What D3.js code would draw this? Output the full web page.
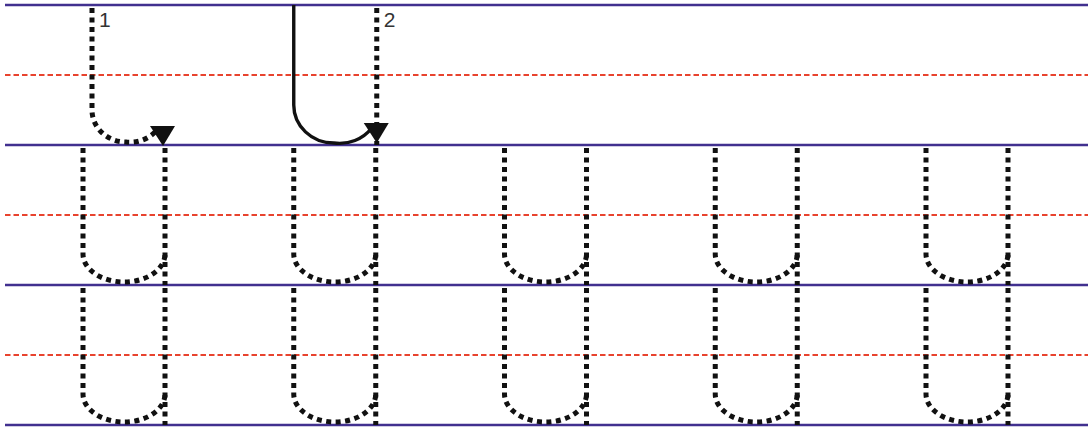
<!DOCTYPE html>
<html><head><meta charset="utf-8">
<script src="https://cdn.jsdelivr.net/npm/d3@7"></script>
<style>html,body{margin:0;padding:0;background:#fff;}svg{display:block;}</style>
</head><body>
<script>
// ---- data ----
const guideRows = [0, 1, 2, 3];          // solid guide lines (row boundaries)
const midRows = [0.5, 1.5, 2.5];         // dashed mid lines
const practiceRows = [1, 2];             // rows with dotted letters
const columns = [0, 1, 2, 3, 4];         // letter columns
const strokeLabels = ["1", "2"];         // stroke order labels

const W = 1088, H = 430;
const svg = d3.select("body").append("svg").attr("width", W).attr("height", H);

const y = d3.scaleLinear().domain([0, 3]).range([5, 425]);
const x = d3.scaleLinear().domain([0, 4]).range([83, 926]);
const letterW = 82;

// guide lines
svg.selectAll("line.mid").data(midRows).join("line")
  .attr("x1", 5).attr("x2", W).attr("y1", d => y(d)).attr("y2", d => y(d))
  .attr("stroke", "#e8432e").attr("stroke-width", 2.2).attr("stroke-dasharray", "5.5 3");
svg.selectAll("line.guide").data(guideRows).join("line")
  .attr("x1", 5).attr("x2", W).attr("y1", d => y(d)).attr("y2", d => y(d))
  .attr("stroke", "#41308f").attr("stroke-width", 2.5);

const dot = g => g.attr("fill", "none").attr("stroke", "#111").attr("stroke-width", 5)
  .attr("stroke-dasharray", "5 4.5").attr("stroke-linecap", "butt");

// practice letters
function uPath(L, T) {
  const B = T + (y(1) - y(0));
  const p = d3.path();
  p.moveTo(L, T + 3);
  p.lineTo(L, B - 31);
  return `${p.toString()} A ${letterW/2} 28 0 0 0 ${L + letterW/2} ${B - 3} A ${letterW/2} 28 0 0 0 ${L + letterW} ${B - 31}`;
}
const cells = [];
practiceRows.forEach(r => columns.forEach(c => cells.push({r, c})));
const letters = svg.selectAll("g.letter").data(cells).join("g");
letters.append("path").attr("d", d => uPath(x(d.c), y(d.r))).call(dot);
letters.append("line")
  .attr("x1", d => x(d.c) + letterW).attr("x2", d => x(d.c) + letterW)
  .attr("y1", d => y(d.r) + 3).attr("y2", d => y(d.r + 1)).call(dot);

// demo row: stroke 1 (dotted)
const T0 = y(0), B0 = y(1);
const L1 = x(0) + 9;
svg.append("path")
  .attr("d", `M ${L1} ${T0 + 3} L ${L1} ${B0 - 35} A 34 32 0 0 0 ${L1 + 34} ${B0 - 3} A 34 32 0 0 0 ${L1 + 64} ${B0 - 14}`)
  .call(dot);
function arrow(tx, ty) {
  return `M ${tx - 13} ${ty - 20} L ${tx + 12} ${ty - 20} L ${tx} ${ty} Z`;
}
svg.append("path").attr("d", arrow(L1 + 71, B0 + 1)).attr("fill", "#111");

// demo row: stroke 2 (solid) + dotted right stem
const L2 = x(1), R2 = x(1) + letterW + 1;
svg.append("line").attr("x1", R2).attr("x2", R2).attr("y1", T0 + 3).attr("y2", B0).call(dot);
svg.append("path")
  .attr("d", `M ${L2} ${T0} L ${L2} ${B0 - 40} A 40 38 0 0 0 ${L2 + 40} ${B0 - 2} A 40 38 0 0 0 ${R2 - 5} ${B0 - 17}`)
  .attr("fill", "none").attr("stroke", "#111").attr("stroke-width", 3.4);
svg.append("path").attr("d", arrow(R2, B0 - 2)).attr("fill", "#111");

// labels
svg.selectAll("text.lbl").data(strokeLabels).join("text")
  .attr("x", (d, i) => i === 0 ? L1 + 7 : R2 + 7)
  .attr("y", T0 + 22)
  .style("font-family", "'Liberation Sans', Arial, sans-serif").style("font-size", "21px")
  .attr("fill", "#333").text(d => d);
</script>
</body></html>
